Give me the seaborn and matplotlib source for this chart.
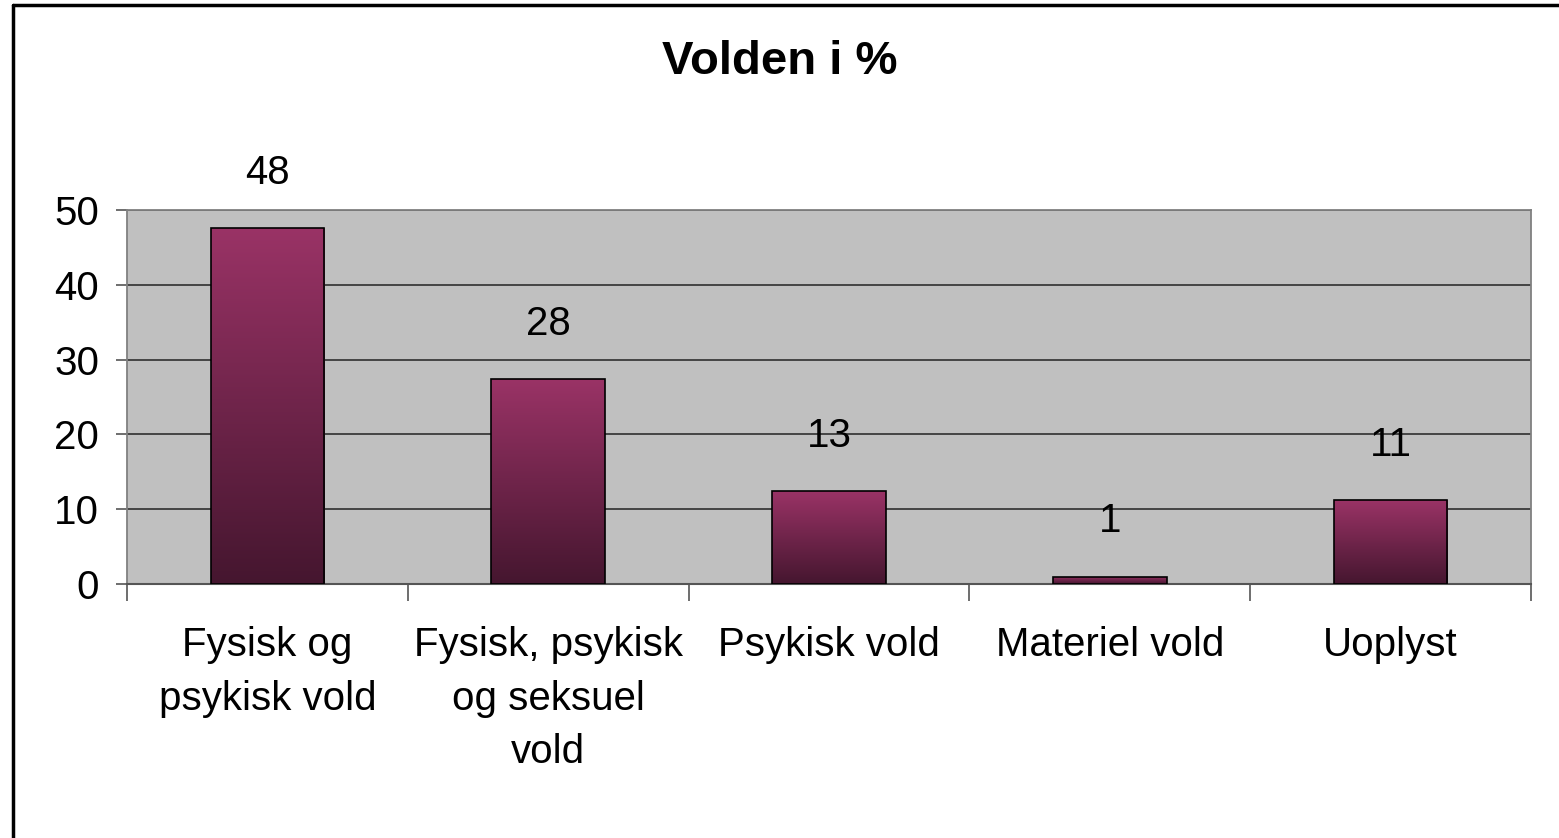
import matplotlib
matplotlib.use("Agg")
import matplotlib.pyplot as plt
import numpy as np
import pandas as pd
import seaborn as sns
from matplotlib.colors import LinearSegmentedColormap
from matplotlib.lines import Line2D

categories = ["Fysisk og\npsykisk vold", "Fysisk, psykisk\nog seksuel\nvold",
              "Psykisk vold", "Materiel vold", "Uoplyst"]
values = [47.6, 27.4, 12.4, 1.0, 11.2]
value_labels = ["48", "28", "13", "1", "11"]
yticks = [0, 10, 20, 30, 40, 50]

df = pd.DataFrame({"kategori": categories, "procent": values})

sns.set_style("white")
plt.rcParams["font.family"] = ["Liberation Sans", "DejaVu Sans"]
plt.rcParams["text.color"] = "black"
plt.rcParams["xtick.color"] = "black"
plt.rcParams["ytick.color"] = "black"

fig = plt.figure(figsize=(15.59, 8.38), dpi=100)
ax = fig.add_axes([127 / 1559, 1 - 584 / 838, (1531 - 127) / 1559, (584 - 210) / 838])
ax.set_facecolor("#c0c0c0")

sns.barplot(data=df, x="kategori", y="procent", ax=ax, width=0.405,
            color="#993366", edgecolor="black", linewidth=1.2, zorder=3)

# gradient fill, dark at the bottom, plum at the top
cmap = LinearSegmentedColormap.from_list("plum", ["#45162f", "#9a3366"])
grad = np.linspace(0, 1, 256).reshape(-1, 1)
for p in ax.patches:
    x0, y0 = p.get_x(), p.get_y()
    w, h = p.get_width(), p.get_height()
    im = ax.imshow(grad, extent=[x0, x0 + w, y0, y0 + h], origin="lower",
                   cmap=cmap, aspect="auto", zorder=2.9, interpolation="bicubic")
    im.set_clip_path(p)
    p.set_facecolor("none")

ax.set_xlim(-0.5, len(categories) - 0.5)
ax.set_ylim(0, 50)
ax.set_yticks(yticks)
ax.yaxis.grid(True, color="#3a3a3a", linewidth=1.3, zorder=1)
ax.set_axisbelow(True)

for s in ["top", "right", "left"]:
    ax.spines[s].set_color("#808080")
    ax.spines[s].set_linewidth(1.3)
ax.spines["bottom"].set_color("#555555")
ax.spines["bottom"].set_linewidth(1.5)

ax.set_xlabel("")
ax.set_ylabel("")
ax.tick_params(axis="y", left=True, length=8, width=1.2, color="#555555",
               labelsize=29, labelcolor="black", pad=12)
ax.tick_params(axis="x", which="major", length=0, labelsize=29, labelcolor="black", pad=30)
ax.set_xticks(np.arange(-0.5, len(categories), 1), minor=True)
ax.tick_params(axis="x", which="minor", bottom=True, length=12, width=1.2, color="#555555")
for t in ax.get_xticklabels():
    t.set_linespacing(1.53)

ax.bar_label(ax.containers[0], labels=value_labels, padding=26, fontsize=29, color="black")

fig.text(0.5, 1 - 62 / 838, "Volden i %", ha="center", va="center",
         fontsize=34, fontweight="bold", color="black")

# outer chart frame
fig.add_artist(Line2D([13 / 1559, 13 / 1559], [0, 1 - 5 / 838], transform=fig.transFigure,
                      color="black", linewidth=2.5))
fig.add_artist(Line2D([13 / 1559, 1], [1 - 5 / 838, 1 - 5 / 838], transform=fig.transFigure,
                      color="black", linewidth=2.5))

fig.savefig("out.png", dpi=100)
